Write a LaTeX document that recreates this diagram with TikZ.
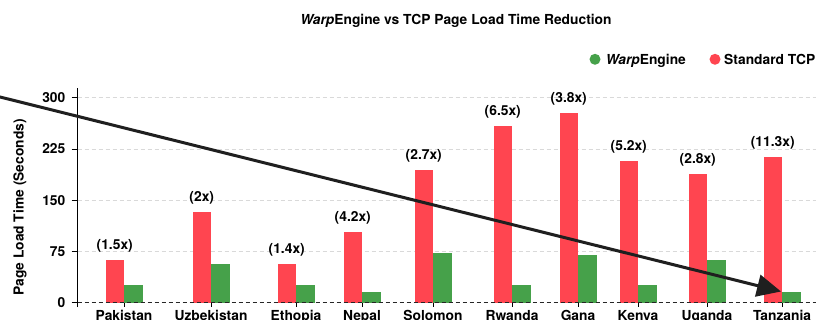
\documentclass[tikz,border=0pt]{standalone}
\usepackage{fontspec}
\setmainfont{TeX Gyre Heros}
\usetikzlibrary{arrows.meta}
\definecolor{tcpred}{HTML}{FF4550}
\definecolor{warpgreen}{HTML}{46A14A}
\newcommand{\warpname}{\textit{Warp}Engine}

\begin{document}
\begin{tikzpicture}[x=1pt, y=1pt, every node/.style={inner sep=0pt},
	font=\fontsize{13.8}{16}\selectfont\bfseries,
	gridline/.style={dashed, dash pattern=on 4pt off 3pt, color=gray!30, line width=0.6pt},
	ratiolabel/.style={anchor=base, yshift=10.5pt},
	countrylabel/.style={anchor=base, yshift=-17.9pt},
	ticklabel/.style={anchor=base east, yshift=-5pt}]
	\useasboundingbox (0,0) rectangle (816,320);

	% title and legend
	\node[anchor=base] (title) at (456,295) {\warpname{} vs TCP Page Load Time Reduction};
	\fill[warpgreen] (595,260.7) circle (5.5);
	\node[anchor=base west] (legwarp) at (605.7,255.7) {\warpname};
	\fill[tcpred] (715,260.7) circle (5.5);
	\node[anchor=base west] (legtcp) at (724,255.7) {Standard TCP};

	% y label
	\node[rotate=90] (ylabel) at (20,112.5) {Page Load Time (Seconds)};

	\begin{scope}[shift={(0,17.3)}, y=0.6833pt]
		% grid and y ticks
		\foreach \v in {75,150,225,300} {
			\draw[gridline] (77.7,\v) -- (816,\v);
		}
		\foreach \v in {0,75,150,225,300} {
			\draw[line width=0.8pt] (71.7,\v) -- (77.7,\v);
			\node[ticklabel] (tick\v) at (65.5,\v) {\v};
		}

		% bars: centre / TCP / WarpEngine / name / speedup
		\foreach \cx/\tcp/\warp/\name/\ratio in {
			124/62/26/Pakistan/(1.5x), 211/132/57/Uzbekistan/(2x),
			296/57/26/Ethopia/(1.4x), 362/104/16/Nepal/(4.2x),
			433/194/73/Solomon/(2.7x), 512/259/26/Rwanda/(6.5x),
			578/278/70/Gana/(3.8x), 638/207/26/Kenya/(5.2x),
			707/188/62/Uganda/(2.8x), 782/213/16/Tanzania/(11.3x)} {
			\fill[tcpred] (\cx-18.5,0) rectangle (\cx,\tcp);
			\fill[warpgreen] (\cx,0) rectangle (\cx+18.5,\warp);
			\node[ratiolabel] (r\name) at (\cx-9.25,\tcp) {\ratio};
			\draw[line width=0.8pt] (\cx,0) -- (\cx,-6);
			\node[countrylabel] (c\name) at (\cx,0) {\name};
		}

		% axes
		\draw[line width=0.8pt, dashed, dash pattern=on 4pt off 3pt, black!85] (77.7,0) -- (816,0);
		\draw[line width=0.8pt] (77.7,-6.3) -- (77.7,314.2);
	\end{scope}

	% trend arrow
	\coordinate (trendstart) at (-2,223.5);
	\coordinate (trendend) at (781,28.5);
	\draw[line width=3pt, -{Triangle[length=24pt, width=22pt]}, black!88] (trendstart) -- (trendend);
\end{tikzpicture}
\end{document}
